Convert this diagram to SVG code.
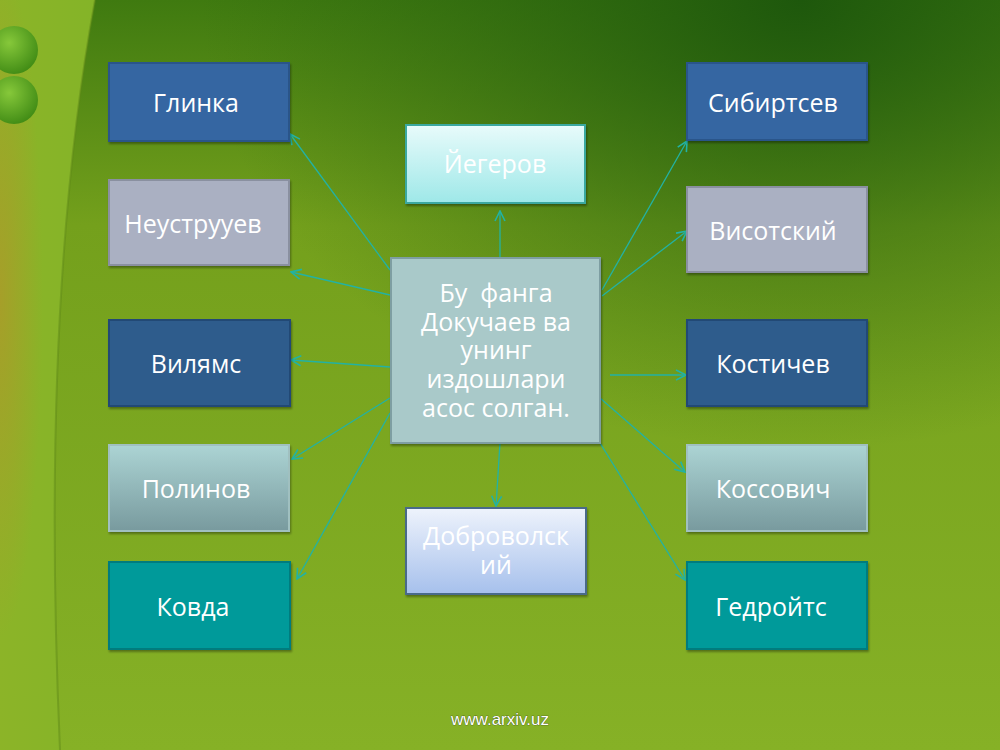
<svg xmlns="http://www.w3.org/2000/svg" width="1000" height="750" viewBox="0 0 1000 750">
<defs>
<linearGradient id="bg" x1="0" y1="0" x2="0" y2="1">
<stop offset="0" stop-color="#3f7a10"/>
<stop offset="0.3" stop-color="#74a01c"/>
<stop offset="1" stop-color="#86b126"/>
</linearGradient>
<radialGradient id="dark" cx="0.8" cy="0" r="0.6">
<stop offset="0" stop-color="#1c560c" stop-opacity="0.95"/>
<stop offset="1" stop-color="#2a6410" stop-opacity="0"/>
</radialGradient>
<linearGradient id="band" x1="0" y1="0" x2="1" y2="0">
<stop offset="0" stop-color="#8cb428"/>
<stop offset="1" stop-color="#84b428"/>
</linearGradient>
<radialGradient id="orange" cx="0" cy="0.4" r="0.45">
<stop offset="0" stop-color="#c08a2a" stop-opacity="0.5"/>
<stop offset="1" stop-color="#c08a2a" stop-opacity="0"/>
</radialGradient>
<radialGradient id="ball" cx="0.4" cy="0.35" r="0.7">
<stop offset="0" stop-color="#86c83a"/>
<stop offset="1" stop-color="#3f8a14"/>
</radialGradient>
<linearGradient id="gPol" x1="0" y1="0" x2="0" y2="1">
<stop offset="0" stop-color="#acd4d4"/>
<stop offset="1" stop-color="#789a9e"/>
</linearGradient>
<linearGradient id="gYeg" x1="0" y1="0" x2="0" y2="1">
<stop offset="0" stop-color="#e8fbfb"/>
<stop offset="1" stop-color="#9ee8e8"/>
</linearGradient>
<linearGradient id="gDob" x1="0" y1="0" x2="0" y2="1">
<stop offset="0" stop-color="#eef3fc"/>
<stop offset="1" stop-color="#a6c0ec"/>
</linearGradient>
<marker id="arr" viewBox="0 0 12 12" refX="11" refY="6" markerWidth="12" markerHeight="12" markerUnits="userSpaceOnUse" orient="auto">
<polyline points="1,1 11,6 1,11" fill="none" stroke="#22b2a4" stroke-width="1.6"/>
</marker>
<filter id="sh" x="-5%" y="-5%" width="115%" height="120%">
<feDropShadow dx="1" dy="2" stdDeviation="1.2" flood-color="#000" flood-opacity="0.35"/>
</filter>
</defs>
<style>
.box{stroke-width:2;filter:url(#sh)}
.t{font-family:"Open Sans","Noto Sans","DejaVu Sans",sans-serif;font-size:25px;fill:#ffffff;text-anchor:middle}
.c{fill:none;stroke:#22b2a4;stroke-width:1.3;marker-end:url(#arr)}
</style>
<g id="background">
<rect width="1000" height="750" fill="url(#bg)"/>
<rect width="1000" height="750" fill="url(#dark)"/>
<path d="M0,0 L95,0 Q40,300 60,750 L0,750 Z" fill="url(#band)"/>
<path d="M0,0 L95,0 Q40,300 60,750 L0,750 Z" fill="url(#orange)"/>
<path d="M95,0 Q40,300 60,750" fill="none" stroke="#5f8a18" stroke-width="2" opacity="0.5"/>
<circle cx="14" cy="50" r="24" fill="url(#ball)"/>
<circle cx="14" cy="100" r="24" fill="url(#ball)"/>
</g>
<g id="connectors">
<line class="c" x1="390" y1="270" x2="290" y2="134"/>
<line class="c" x1="390" y1="295" x2="291" y2="272"/>
<line class="c" x1="390" y1="367" x2="291" y2="360"/>
<line class="c" x1="390" y1="398" x2="292" y2="459"/>
<line class="c" x1="390" y1="413" x2="297" y2="579"/>
<line class="c" x1="500" y1="257" x2="500" y2="211"/>
<line class="c" x1="500" y1="443" x2="496" y2="506"/>
<line class="c" x1="602" y1="290" x2="687" y2="141"/>
<line class="c" x1="602" y1="296" x2="687" y2="231"/>
<line class="c" x1="610" y1="375" x2="686" y2="375"/>
<line class="c" x1="600" y1="398" x2="685" y2="472"/>
<line class="c" x1="600" y1="443" x2="685" y2="580"/>
</g>
<g id="center">
<rect class="box" x="391" y="258" width="209" height="185" fill="#a9c9c9" stroke="#7e9ea2"/>
<text class="t" x="496" y="302"><tspan x="496" y="302">Бу&#160; фанга</tspan><tspan x="496" y="331">Докучаев ва</tspan><tspan x="496" y="359">унинг</tspan><tspan x="496" y="388">издошлари</tspan><tspan x="496" y="417">асос солган.</tspan></text>
</g>
<g id="glinka">
<rect class="box" x="109" y="63" width="180" height="78" fill="#3566a2" stroke="#2c548a"/>
<text class="t" x="196" y="112">Глинка</text>
</g>
<g id="neustruev">
<rect class="box" x="109" y="180" width="180" height="85" fill="#aab0c2" stroke="#8a90a0"/>
<text class="t" x="193" y="233">Неуструуев</text>
</g>
<g id="vilyams">
<rect class="box" x="109" y="320" width="181" height="86" fill="#2e5b8c" stroke="#234a74"/>
<text class="t" x="196" y="373">Вилямс</text>
</g>
<g id="polinov">
<rect class="box" x="109" y="445" width="180" height="86" fill="url(#gPol)" stroke="#a0c0c0" stroke-width="1"/>
<text class="t" x="196" y="498">Полинов</text>
</g>
<g id="kovda">
<rect class="box" x="109" y="562" width="181" height="87" fill="#029a9a" stroke="#037c7e"/>
<text class="t" x="193" y="616">Ковда</text>
</g>
<g id="yegerov">
<rect class="box" x="406" y="125" width="179" height="78" fill="url(#gYeg)" stroke="#3aa8a0" stroke-width="1"/>
<text class="t" x="495" y="173">Йегеров</text>
</g>
<g id="dobrovolsky">
<rect class="box" x="406" y="508" width="180" height="86" fill="url(#gDob)" stroke="#4a6a8a" stroke-width="1"/>
<text class="t" x="496" y="545"><tspan x="496" y="545">Доброволск</tspan><tspan x="496" y="574">ий</tspan></text>
</g>
<g id="sibirtsev">
<rect class="box" x="687" y="63" width="180" height="77" fill="#3566a2" stroke="#2c548a"/>
<text class="t" x="773" y="112">Сибиртсев</text>
</g>
<g id="visotsky">
<rect class="box" x="687" y="187" width="180" height="85" fill="#aab0c2" stroke="#8a90a0"/>
<text class="t" x="773" y="240">Висотский</text>
</g>
<g id="kostichev">
<rect class="box" x="687" y="320" width="180" height="86" fill="#2e5b8c" stroke="#234a74"/>
<text class="t" x="773" y="373">Костичев</text>
</g>
<g id="kossovich">
<rect class="box" x="687" y="445" width="180" height="86" fill="url(#gPol)" stroke="#a0c0c0" stroke-width="1"/>
<text class="t" x="773" y="498">Коссович</text>
</g>
<g id="gedroyts">
<rect class="box" x="687" y="562" width="180" height="87" fill="#029a9a" stroke="#037c7e"/>
<text class="t" x="771" y="616">Гедройтс</text>
</g>
<text x="500" y="725" font-family="Liberation Sans, Arial, sans-serif" font-size="17" fill="#ffffff" text-anchor="middle" style="paint-order:stroke" stroke="#3a4a1a" stroke-width="0.6">www.arxiv.uz</text>
</svg>
